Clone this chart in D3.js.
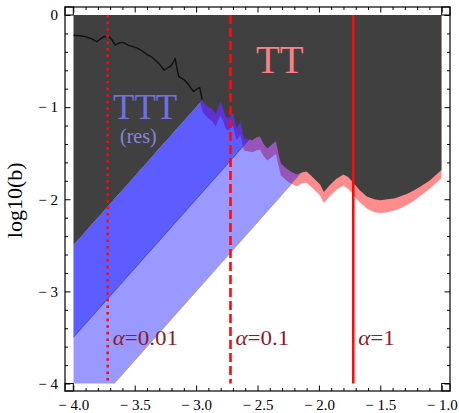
<!DOCTYPE html>
<html>
<head>
<meta charset="utf-8">
<script src="https://cdn.jsdelivr.net/npm/d3@7"></script>
<style>
	html, body { margin: 0; padding: 0; background: #fff; }
</style>
</head>
<body>
<div id="chart"></div>
<script>
// TT boundary (log10 b vs x)
var ttX = [-4.00, -3.95, -3.90, -3.85, -3.81, -3.78, -3.75, -3.71, -3.68, -3.66, -3.62, -3.59, -3.55, -3.52,
	-3.48, -3.45, -3.42, -3.40, -3.37, -3.35, -3.30, -3.26, -3.23, -3.21, -3.18, -3.17, -3.15, -3.14, -3.10,
	-3.07, -3.04, -3.02, -2.99, -2.97, -2.95, -2.93, -2.90, -2.87, -2.84, -2.82, -2.80, -2.78, -2.76, -2.74,
	-2.72, -2.70, -2.68, -2.67, -2.64, -2.62, -2.61, -2.58, -2.54, -2.51, -2.48, -2.45, -2.42, -2.38, -2.35,
	-2.33, -2.31, -2.27, -2.23, -2.18, -2.14, -2.10, -2.05, -1.99, -1.96, -1.92, -1.86, -1.80, -1.76, -1.72,
	-1.67, -1.61, -1.55, -1.50, -1.44, -1.38, -1.34, -1.28, -1.22, -1.17, -1.10, -1.05, -1.00];
var ttY = [-0.22, -0.225, -0.235, -0.26, -0.29, -0.26, -0.235, -0.23, -0.28, -0.325, -0.30, -0.30, -0.33, -0.34,
	-0.36, -0.38, -0.41, -0.43, -0.45, -0.47, -0.53, -0.60, -0.57, -0.56, -0.50, -0.47, -0.62, -0.67, -0.70,
	-0.74, -0.80, -0.83, -0.80, -0.79, -0.92, -0.96, -1.00, -1.02, -1.08, -1.00, -0.94, -1.02, -1.10, -1.12,
	-1.10, -1.06, -1.18, -1.23, -1.16, -1.28, -1.34, -1.35, -1.36, -1.33, -1.32, -1.40, -1.45, -1.40, -1.37,
	-1.50, -1.61, -1.66, -1.70, -1.73, -1.71, -1.70, -1.76, -1.84, -1.92, -1.86, -1.78, -1.73, -1.76, -1.82,
	-1.90, -1.97, -2.00, -2.01, -2.00, -1.99, -1.97, -1.94, -1.90, -1.86, -1.80, -1.74, -1.68];

// lower edge of the TT band (pink / purple strip)
var bandX = [-3.04, -3.02, -2.99, -2.97, -2.95, -2.93, -2.90, -2.87, -2.84, -2.82, -2.80, -2.78, -2.76, -2.74,
	-2.72, -2.70, -2.68, -2.67, -2.64, -2.62, -2.61, -2.58, -2.54, -2.51, -2.48, -2.45, -2.42, -2.38, -2.35,
	-2.33, -2.31, -2.27, -2.23, -2.18, -2.14, -2.10, -2.05, -1.99, -1.96, -1.92, -1.86, -1.80, -1.76, -1.72,
	-1.67, -1.61, -1.55, -1.50, -1.44, -1.38, -1.34, -1.28, -1.22, -1.17, -1.10, -1.05, -1.00];
var bandLow = [-0.93, -0.96, -0.93, -0.92, -1.04, -1.08, -1.12, -1.15, -1.21, -1.14, -1.09, -1.15, -1.23, -1.25,
	-1.23, -1.20, -1.31, -1.36, -1.30, -1.41, -1.47, -1.48, -1.49, -1.47, -1.46, -1.53, -1.58, -1.54, -1.51,
	-1.63, -1.74, -1.79, -1.83, -1.86, -1.83, -1.82, -1.88, -1.96, -2.04, -1.98, -1.90, -1.85, -1.89, -1.95,
	-2.03, -2.10, -2.14, -2.15, -2.14, -2.12, -2.10, -2.06, -2.01, -1.96, -1.89, -1.83, -1.77];

// TTT (res) bands: lines y = slope*x + offset
var tttSlope = 1.5;
var tttOffsets = [3.5, 2.5, 1.5];

// alpha lines
var alphaX = [-3.72, -2.72, -1.72];
var alphaLabels = ["0.01", "0.1", "1"];
var alphaDash = ["2.6,4", "9,4", null];

var xMajor = [-4, -3.5, -3, -2.5, -2, -1.5, -1];
var yMajor = [0, -1, -2, -3, -4];

var SERIF = "Liberation Serif";

var W = 459, H = 413;
var x = d3.scaleLinear().domain([-4, -1]).range([73.3, 441.7]);
var y = d3.scaleLinear().domain([0, -4]).range([15, 383.5]);
var frame = { left: 65, right: 450, top: 7, bottom: 391 };

var svg = d3.select("#chart").append("svg")
	.attr("width", W)
	.attr("height", H)
	.attr("font-family", SERIF);

svg.append("clipPath").attr("id", "plotclip")
	.append("rect")
	.attr("x", x(-4)).attr("y", y(0))
	.attr("width", x(-1) - x(-4))
	.attr("height", y(-4) - y(0));

var plot = svg.append("g").attr("clip-path", "url(#plotclip)");

// TT strip, drawn from the top down to its lower edge (dark covers the upper part)
plot.append("path")
	.datum(d3.range(bandX.length))
	.attr("fill", "#ff8c8c")
	.attr("d", d3.area()
		.x(function(i) { return x(bandX[i]); })
		.y0(y(0))
		.y1(function(i) { return y(bandLow[i]); }));

// TTT bands: translucent blue, two layers overlap in the darker band
var lineXs = [-4, -1];
function tttArea(hi, lo) {
	return d3.area()
		.x(function(d) { return x(d); })
		.y0(function(d) { return y(tttSlope * d + hi); })
		.y1(function(d) { return y(tttSlope * d + lo); });
}
plot.append("path").datum(lineXs)
	.attr("fill", "#0000ff").attr("fill-opacity", 0.4)
	.attr("d", tttArea(tttOffsets[0], tttOffsets[2]));
plot.append("path").datum(lineXs)
	.attr("fill", "#0000ff").attr("fill-opacity", 0.4)
	.attr("d", tttArea(tttOffsets[0], tttOffsets[1]));

var edge = d3.line()
	.x(function(d) { return x(d.x); })
	.y(function(d) { return y(d.y); });
plot.append("path")
	.datum(lineXs.map(function(d) { return { x: d, y: tttSlope * d + tttOffsets[1] }; }))
	.attr("fill", "none").attr("stroke", "#3a3ab0").attr("stroke-width", 0.7)
	.attr("d", edge);
plot.append("path")
	.datum(lineXs.map(function(d) { return { x: d, y: tttSlope * d + tttOffsets[2] }; }))
	.attr("fill", "none").attr("stroke", "#9a9a9a").attr("stroke-width", 0.8)
	.attr("d", edge);

// excluded region (dark)
plot.append("path")
	.datum(d3.range(ttX.length))
	.attr("fill", "#404040")
	.attr("d", d3.area()
		.x(function(i) { return x(ttX[i]); })
		.y0(y(0))
		.y1(function(i) { return y(Math.min(ttY[i], tttSlope * ttX[i] + tttOffsets[0])); }));

// TT curve visible inside the dark region
plot.append("path")
	.datum(d3.range(ttX.length).filter(function(i) { return ttX[i] <= -2.95; }))
	.attr("fill", "none")
	.attr("stroke", "#111")
	.attr("stroke-width", 1.4)
	.attr("stroke-linejoin", "round")
	.attr("d", d3.line()
		.x(function(i) { return x(ttX[i]); })
		.y(function(i) { return y(ttY[i]); }));

// alpha lines
alphaX.forEach(function(a, k) {
	svg.append("line")
		.attr("x1", x(a)).attr("x2", x(a))
		.attr("y1", y(0)).attr("y2", y(-4))
		.attr("stroke", "#ff0a0a")
		.attr("stroke-width", 2.6)
		.attr("stroke-dasharray", alphaDash[k]);
	// labels a bit wider than the plain font, as in the original
	var t = svg.append("text")
		.attr("transform", "translate(" + (x(a) + 5) + ",345) scale(1.15,1)")
		.attr("font-family", SERIF)
		.attr("font-size", 20)
		.attr("fill", "#8e1b2b");
	t.append("tspan").attr("font-style", "italic").text("\u03b1");
	t.append("tspan").text("=" + alphaLabels[k]);
});

// labels in the plot
svg.append("text").attr("x", 113).attr("y", 118.5).attr("font-family", SERIF)
	.attr("font-size", 35).attr("fill", "#7070e6").text("TTT");
svg.append("text").attr("x", 120).attr("y", 143).attr("font-family", SERIF)
	.attr("font-size", 20).attr("fill", "#8686de").text("(res)");
svg.append("text").attr("x", 256).attr("y", 73).attr("font-family", SERIF)
	.attr("font-size", 39).attr("fill", "#fa8282").text("TT");

// frame
svg.append("rect")
	.attr("x", frame.left).attr("y", frame.top)
	.attr("width", frame.right - frame.left)
	.attr("height", frame.bottom - frame.top)
	.attr("fill", "none").attr("stroke", "#000").attr("stroke-width", 1.2);

// corner boxes
[[frame.left, frame.top], [x(-1), frame.top], [frame.left, y(-4)], [x(-1), y(-4)]].forEach(function(c) {
	svg.append("rect")
		.attr("x", c[0]).attr("y", c[1])
		.attr("width", c[0] == frame.left ? x(-4) - frame.left : frame.right - x(-1))
		.attr("height", c[1] == frame.top ? y(0) - frame.top : frame.bottom - y(-4))
		.attr("fill", "none").attr("stroke", "#000").attr("stroke-width", 1);
});

function minus(v, digits) {
	if (v == 0) return "0";
	return (v < 0 ? "\u2212 " : "") + Math.abs(v).toFixed(digits);
}

var xMinor = d3.range(-40, -9).filter(function(i) { return i % 5 != 0; }).map(function(i) { return i / 10; });
var yMinor = d3.range(-20, 1).filter(function(i) { return i % 5 != 0; }).map(function(i) { return i / 5; });

function styleAxis(g) {
	g.attr("font-family", SERIF);
	g.select(".domain").remove();
	g.selectAll("line").attr("stroke", "#000");
	g.selectAll("text")
		.attr("font-family", SERIF)
		.attr("font-size", 15)
		.attr("fill", "#000");
}

svg.append("g").attr("transform", "translate(0," + frame.bottom + ")")
	.call(d3.axisBottom(x).tickValues(xMajor).tickSize(-5.5).tickPadding(8.3)
		.tickFormat(function(d) { return minus(d, 1); }))
	.call(styleAxis);
svg.append("g").attr("transform", "translate(0," + frame.bottom + ")")
	.call(d3.axisBottom(x).tickValues(xMinor).tickSize(-3).tickFormat(""))
	.call(styleAxis);
svg.append("g").attr("transform", "translate(0," + frame.top + ")")
	.call(d3.axisTop(x).tickValues(xMajor).tickSize(-5.5).tickFormat(""))
	.call(styleAxis);
svg.append("g").attr("transform", "translate(0," + frame.top + ")")
	.call(d3.axisTop(x).tickValues(xMinor).tickSize(-3).tickFormat(""))
	.call(styleAxis);

svg.append("g").attr("transform", "translate(" + frame.left + ",0)")
	.call(d3.axisLeft(y).tickValues(yMajor).tickSize(-5.5).tickPadding(7)
		.tickFormat(function(d) { return minus(d, 0); }))
	.call(styleAxis);
svg.append("g").attr("transform", "translate(" + frame.left + ",0)")
	.call(d3.axisLeft(y).tickValues(yMinor).tickSize(-3).tickFormat(""))
	.call(styleAxis);
svg.append("g").attr("transform", "translate(" + frame.right + ",0)")
	.call(d3.axisRight(y).tickValues(yMajor).tickSize(-5.5).tickFormat(""))
	.call(styleAxis);
svg.append("g").attr("transform", "translate(" + frame.right + ",0)")
	.call(d3.axisRight(y).tickValues(yMinor).tickSize(-3).tickFormat(""))
	.call(styleAxis);

// y axis title
svg.append("text")
	.attr("transform", "translate(21.5," + (y(-2) + 1) + ") rotate(-90)")
	.attr("text-anchor", "middle")
	.attr("font-family", SERIF)
	.attr("font-size", 22)
	.attr("fill", "#000")
	.text("log10(b)");
</script>
</body>
</html>
